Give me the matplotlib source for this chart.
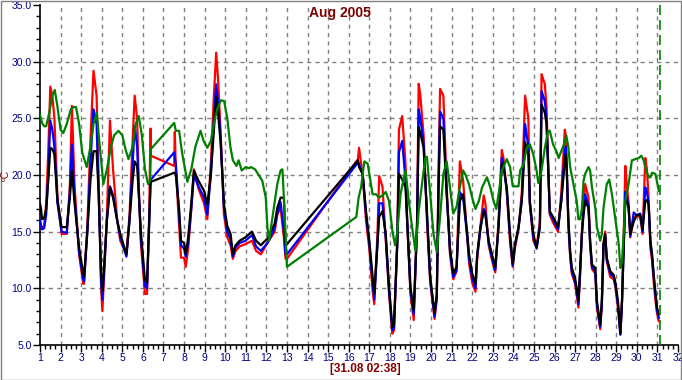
import matplotlib
matplotlib.use("Agg")
import matplotlib.pyplot as plt
from matplotlib.ticker import MultipleLocator, FormatStrFormatter
from matplotlib.patches import Rectangle

plt.rcParams["font.family"] = ["Liberation Sans", "DejaVu Sans"]

# ---- data: day of month (decimal) and temperature in °C ----
# shared timestamps for the three probes (black / blue / red)
t_probe = [
    1.0, 1.05, 1.1, 1.2, 1.3, 1.4, 1.5, 1.6, 1.7, 1.85, 2.05, 2.3, 2.45, 2.55, 2.68,
    2.9, 3.1, 3.14, 3.3, 3.45, 3.6, 3.75, 3.85, 3.97, 4.03, 4.1, 4.25, 4.4, 4.55, 4.75,
    4.9, 5.2, 5.35, 5.5, 5.6, 5.72, 5.8, 5.9, 6.1, 6.2, 6.3, 6.37, 6.39,
    7.52, 7.55, 7.6, 7.76, 7.85, 8.0, 8.08, 8.2, 8.35, 8.48, 8.7, 8.97, 9.13, 9.3, 9.45,
    9.56, 9.65, 9.77, 9.94, 10.1, 10.26, 10.37, 10.5, 10.7, 10.98, 11.3, 11.5, 11.73,
    12.05, 12.4, 12.53, 12.69, 12.85, 12.93, 13.0,
    16.45, 16.5, 16.68, 16.84, 17.0, 17.16, 17.24, 17.4, 17.48, 17.64, 17.8, 17.96,
    18.12, 18.2, 18.36, 18.44, 18.6, 18.76, 18.84, 19.0, 19.16, 19.32, 19.4, 19.48,
    19.64, 19.8, 19.96, 20.17, 20.28, 20.36, 20.44, 20.6, 20.76, 20.92, 21.08, 21.24,
    21.4, 21.56, 21.76, 21.85, 22.0, 22.16, 22.24, 22.4, 22.56, 22.64, 22.8, 22.96,
    23.12, 23.28, 23.44, 23.52, 23.68, 23.84, 23.97, 24.08, 24.25, 24.41, 24.57, 24.73,
    24.8, 24.97, 25.13, 25.29, 25.37, 25.53, 25.61, 25.77, 25.93, 26.17, 26.33, 26.5,
    26.55, 26.59, 26.67, 26.76, 26.84, 27.0, 27.08, 27.16, 27.24, 27.33, 27.41, 27.49,
    27.65, 27.73, 27.82, 27.98, 28.06, 28.22, 28.3, 28.38, 28.46, 28.54, 28.71, 28.87,
    28.95, 29.08, 29.2, 29.28, 29.36, 29.44, 29.52, 29.6, 29.68, 29.85, 30.0, 30.16,
    30.28, 30.41, 30.49, 30.57, 30.66, 30.74, 30.82, 30.9, 30.98, 31.07,
]

temp_black = [
    17.5, 17.0, 16.1, 16.2, 17.0, 19.5, 22.4, 22.3, 21.8, 17.7, 15.4, 15.4, 18.0, 20.4, 17.5,
    13.6, 11.3, 11.0, 15.0, 19.5, 22.1, 22.1, 18.3, 11.3, 9.8, 11.5, 16.0, 18.9, 18.0, 16.0,
    14.8, 13.0, 16.0, 19.5, 21.2, 20.8, 18.3, 15.0, 10.7, 10.5, 15.5, 19.2, 19.4,
    20.2, 20.2, 20.0, 17.0, 14.2, 14.0, 13.0, 14.5, 17.5, 20.4, 19.5, 18.6, 17.4, 20.0, 24.0,
    26.9, 25.5, 23.0, 17.4, 15.5, 14.8, 13.0, 13.8, 14.2, 14.5, 15.0, 14.2, 13.8,
    14.4, 15.7, 17.1, 18.0, 18.0, 13.9, 13.9,
    21.3, 20.7, 20.1, 16.8, 14.2, 11.0, 9.5, 14.0, 16.3, 16.8, 14.8, 10.1,
    6.6, 6.8, 13.9, 20.1, 19.6, 18.9, 16.0, 10.1, 8.05, 15.4, 24.2, 23.7,
    22.4, 16.8, 11.0, 7.8, 9.5, 18.3, 24.3, 24.0, 18.3, 13.6, 11.3, 11.9,
    17.7, 18.3, 14.8, 13.0, 11.3, 10.4, 13.0, 15.4, 16.8, 16.5, 14.2, 13.0,
    11.9, 15.4, 21.0, 20.7, 18.9, 14.8, 12.2, 13.9, 15.4, 17.7, 22.9, 21.8,
    17.7, 14.8, 13.6, 15.4, 26.2, 25.5, 24.5, 16.8, 16.3, 15.4, 17.7, 21.2,
    21.8, 20.7, 16.2, 13.3, 11.8, 10.9, 10.0, 8.9, 11.5, 14.8, 16.5, 17.7,
    17.1, 14.2, 12.1, 11.8, 8.9, 6.8, 8.9, 13.9, 14.8, 12.7, 11.5, 11.2,
    10.6, 8.9, 6.0, 8.9, 13.3, 17.7, 17.7, 17.1, 14.8, 15.9, 16.5, 16.5,
    15.2, 17.7, 17.8, 17.4, 14.2, 13.0, 11.2, 9.7, 8.3, 7.7,
]

temp_blue = [
    16.0, 15.5, 15.2, 15.3, 16.5, 20.0, 24.8, 24.0, 22.5, 17.5, 15.0, 14.9, 18.5, 22.7, 18.0,
    13.2, 10.8, 10.6, 15.0, 21.0, 25.8, 24.5, 18.5, 10.5, 9.0, 11.0, 16.0, 19.0, 18.2, 16.0,
    14.5, 12.8, 16.0, 21.0, 24.3, 22.5, 18.5, 14.5, 10.2, 10.0, 15.5, 19.3, 19.6,
    22.0, 21.5, 21.0, 16.5, 13.8, 13.5, 12.8, 14.0, 17.0, 20.0, 19.0, 18.0, 16.5, 20.0, 25.0,
    28.0, 26.5, 23.5, 17.0, 15.0, 14.3, 12.8, 13.6, 14.0, 14.2, 14.7, 13.7, 13.3,
    14.0, 15.3, 16.6, 17.6, 15.0, 13.0, 13.0,
    21.1, 21.0, 20.0, 16.5, 14.0, 10.5, 9.0, 14.0, 17.5, 17.5, 14.5, 9.8,
    6.3, 6.5, 14.0, 22.0, 23.0, 19.5, 16.0, 9.8, 7.7, 15.5, 25.8, 25.0,
    22.8, 16.5, 10.8, 7.5, 9.3, 19.0, 25.6, 25.0, 18.5, 13.3, 11.0, 11.6,
    18.5, 18.0, 14.5, 12.6, 10.9, 10.0, 12.8, 15.2, 17.0, 16.7, 14.0, 12.7,
    11.6, 15.5, 21.5, 21.0, 18.6, 14.5, 12.0, 13.8, 15.3, 17.8, 24.5, 22.5,
    17.5, 14.5, 13.5, 15.5, 27.4, 26.5, 25.0, 16.6, 16.1, 15.2, 17.8, 22.0,
    22.5, 20.8, 16.0, 13.0, 11.5, 10.6, 9.7, 8.6, 11.3, 14.8, 16.8, 18.3,
    17.3, 14.0, 11.9, 11.5, 8.6, 6.6, 8.7, 13.8, 14.6, 12.5, 11.3, 11.0,
    10.4, 8.6, 5.9, 8.8, 13.5, 18.5, 18.0, 17.2, 14.6, 16.7, 16.4, 16.6,
    15.0, 18.9, 18.5, 17.5, 14.0, 12.8, 11.0, 9.5, 8.0, 7.4,
]

temp_red = [
    16.0, 15.5, 15.4, 15.5, 17.5, 22.0, 27.8, 27.0, 25.0, 18.0, 14.8, 14.8, 19.0, 26.1, 19.0,
    13.0, 10.4, 10.4, 15.5, 23.0, 29.2, 27.0, 19.5, 10.0, 8.0, 10.5, 16.5, 24.8, 20.5, 16.0,
    14.2, 13.0, 16.5, 23.0, 27.0, 25.0, 19.0, 14.0, 9.5, 9.5, 16.0, 24.1, 21.7,
    20.8, 23.8, 20.5, 15.5, 12.7, 12.7, 11.9, 13.5, 17.0, 20.5, 18.8, 17.5, 16.1, 21.0, 27.0,
    30.8, 28.5, 24.0, 16.5, 14.5, 13.8, 12.6, 13.3, 13.7, 13.9, 14.2, 13.3, 13.0,
    14.0, 15.0, 16.5, 17.1, 14.5, 12.6, 12.6,
    21.4, 22.4, 20.0, 16.0, 13.5, 9.8, 8.6, 15.0, 19.9, 19.0, 14.2, 9.5,
    6.0, 6.3, 14.5, 24.0, 25.2, 21.0, 16.0, 9.5, 7.2, 16.0, 28.05, 27.0,
    23.5, 16.0, 10.5, 7.3, 9.0, 20.0, 27.6, 27.0, 19.0, 13.0, 10.8, 11.5,
    21.2, 19.5, 14.5, 12.2, 10.5, 9.7, 12.5, 15.5, 18.2, 17.5, 13.8, 12.5,
    11.4, 16.0, 22.2, 21.5, 18.5, 14.0, 11.9, 13.6, 15.2, 18.5, 27.0, 25.0,
    17.5, 14.2, 13.6, 16.0, 28.9, 28.0, 26.0, 16.5, 15.8, 15.0, 18.5, 24.0,
    23.5, 21.0, 15.5, 12.8, 11.3, 10.4, 9.4, 8.3, 11.0, 15.0, 17.5, 19.2,
    18.0, 13.8, 11.7, 11.3, 8.3, 6.4, 8.5, 14.0, 15.0, 12.4, 11.0, 10.8,
    10.2, 8.3, 6.0, 9.0, 14.5, 20.8, 19.0, 17.5, 14.5, 16.2, 16.4, 16.3,
    14.8, 21.5, 20.5, 18.0, 13.5, 12.5, 10.5, 9.0, 7.8, 7.1,
]

t_green = [
    1.0, 1.1, 1.2, 1.3, 1.45, 1.6, 1.72, 1.85, 2.0, 2.13, 2.3, 2.5, 2.65, 2.75, 2.9,
    3.05, 3.27, 3.45, 3.6, 3.76, 3.88, 4.08, 4.25, 4.45, 4.6, 4.81, 5.0, 5.15, 5.3,
    5.5, 5.65, 5.8, 5.95, 6.1, 6.25, 6.35, 6.39,
    7.52, 7.6, 7.76, 7.9, 8.16, 8.35, 8.55, 8.8, 8.95, 9.13, 9.3, 9.5, 9.65, 9.8,
    9.95, 10.1, 10.25, 10.37, 10.55, 10.65, 10.8, 11.0, 11.15, 11.25, 11.45, 11.8,
    11.97, 12.05, 12.13, 12.3, 12.53, 12.69, 12.78, 12.85, 12.93, 13.0,
    16.37, 16.48, 16.6, 16.76, 16.92, 17.0, 17.16, 17.32, 17.48, 17.64, 17.8, 17.96,
    18.12, 18.25, 18.36, 18.52, 18.68, 18.76, 18.92, 19.08, 19.24, 19.4, 19.56, 19.72,
    19.8, 19.96, 20.12, 20.28, 20.44, 20.6, 20.76, 20.92, 21.08, 21.24, 21.4, 21.56,
    21.68, 21.84, 22.0, 22.16, 22.32, 22.48, 22.72, 22.88, 23.04, 23.17, 23.28, 23.44,
    23.68, 23.84, 23.97, 24.25, 24.33, 24.49, 24.65, 24.81, 24.97, 25.13, 25.21, 25.37,
    25.53, 25.69, 25.77, 25.93, 26.09, 26.2, 26.33, 26.5, 26.57, 26.67, 26.76, 26.92,
    27.08, 27.16, 27.24, 27.33, 27.41, 27.49, 27.65, 27.73, 27.82, 27.98, 28.06, 28.22,
    28.3, 28.38, 28.54, 28.66, 28.79, 28.95, 29.12, 29.2, 29.28, 29.36, 29.44, 29.6,
    29.76, 29.93, 30.09, 30.22, 30.33, 30.41, 30.57, 30.66, 30.74, 30.9, 31.07,
]

temp_green = [
    25.3, 24.6, 24.3, 24.3, 25.5, 27.0, 27.5, 26.0, 24.0, 23.7, 24.5, 25.8, 26.0, 26.0, 24.5,
    22.0, 20.7, 22.5, 24.5, 25.5, 23.0, 19.2, 20.5, 22.5, 23.5, 23.9, 23.5, 22.3, 21.4,
    22.5, 24.5, 25.2, 23.5, 20.5, 19.2, 19.5, 22.3,
    24.6, 23.9, 23.9, 22.0, 19.4, 20.5, 22.5, 23.9, 23.0, 22.4, 23.0, 25.0, 26.0, 26.6,
    26.5, 25.0, 22.5, 21.3, 20.8, 21.3, 20.4, 20.7, 20.6, 20.7, 20.5, 19.5,
    18.0, 15.4, 14.2, 16.3, 19.2, 20.4, 20.5, 18.0, 14.8, 11.9,
    16.3, 18.0, 18.9, 21.2, 21.0, 20.1, 18.3, 18.3, 18.0, 18.2, 18.5, 17.7,
    15.1, 13.8, 15.0, 18.3, 19.8, 20.4, 17.7, 15.4, 13.3, 16.8, 19.2, 21.5,
    21.6, 18.3, 14.8, 13.2, 16.3, 20.1, 21.2, 18.9, 16.6, 17.2, 18.9, 20.4,
    20.0, 19.2, 18.0, 17.0, 17.7, 18.9, 19.8, 18.9, 17.7, 17.0, 18.3, 20.4,
    21.4, 20.7, 19.0, 19.0, 20.4, 20.9, 22.4, 22.7, 21.8, 20.4, 19.3, 20.4,
    22.4, 23.9, 23.9, 22.7, 22.1, 21.5, 22.1, 22.9, 23.5, 22.5, 20.7, 19.2,
    17.7, 16.1, 16.1, 17.0, 19.5, 20.1, 20.7, 20.4, 18.9, 17.1, 15.4, 14.2,
    14.8, 17.1, 19.2, 19.6, 18.3, 16.2, 13.9, 11.8, 12.4, 14.8, 17.7, 19.2,
    21.3, 21.4, 21.5, 21.7, 21.3, 20.7, 19.8, 19.8, 20.2, 20.1, 18.6,
]

day_ticks = list(range(1, 33))
cursor_day = 31.11
cursor_label = "[31.08 02:38]"
title = "Aug 2005"

# ---- figure ----
W, H = 682, 380
fig = plt.figure(figsize=(W / 100, H / 100), dpi=100, facecolor="white")
ax = fig.add_axes([40 / W, (H - 345) / H, (678 - 40) / W, 340 / H])

lw = 1.6
ax.plot(t_probe, temp_red, color="#ff0000", lw=lw, zorder=3)
ax.plot(t_probe, temp_blue, color="#0000ff", lw=lw, zorder=4)
ax.plot(t_probe, temp_black, color="#000000", lw=lw, zorder=5)
ax.plot(t_green, temp_green, color="#008000", lw=lw, zorder=6)

# dashed grid, drawn by hand so nothing lands on the top/bottom edge
for d in day_ticks[1:-1]:
    ax.axvline(d, color="#808080", lw=1, ls=(0, (3, 3)), zorder=1)
for v in range(10, 35, 5):
    ax.axhline(v, color="#808080", lw=1, ls=(0, (3, 3)), zorder=1)

# cursor line
ax.axvline(cursor_day, color="#008000", lw=1.2, ls=(0, (6, 3)), zorder=7)

ax.set_xlim(1, 32)
ax.set_ylim(5, 35)
ax.xaxis.set_major_locator(MultipleLocator(1))
ax.xaxis.set_minor_locator(MultipleLocator(0.25))
ax.yaxis.set_major_locator(MultipleLocator(5))
ax.yaxis.set_minor_locator(MultipleLocator(1))
ax.yaxis.set_major_formatter(FormatStrFormatter("%.1f"))

ax.tick_params(which="major", direction="out", length=5, width=1,
               colors="black", labelcolor="#000080", labelsize=7.5, pad=1)
ax.tick_params(axis="x", which="major", pad=0.5)
ax.tick_params(which="minor", direction="out", length=3, width=1, colors="black")

for side in ("top", "right"):
    ax.spines[side].set_visible(False)
for side in ("left", "bottom"):
    ax.spines[side].set_linewidth(1.2)

fig.text(6 / W, 1 - 175 / H, "ºC", color="#800000", fontsize=7.5,
         rotation=90, ha="center", va="center")
fig.text(340 / W, 1 - 13 / H, title, color="#800000", fontsize=10,
         fontweight="bold", ha="center", va="center")
fig.text(365 / W, 1 - 369 / H, cursor_label, color="#800000", fontsize=8.5,
         fontweight="bold", ha="center", va="center")

# thin frame round the whole picture
fig.patches.append(Rectangle((0.5 / W, 0.5 / H), 1 - 1.5 / W, 1 - 1.5 / H,
                             transform=fig.transFigure, fill=False,
                             edgecolor="#808080", lw=1))

fig.savefig("out.png", dpi=100)
